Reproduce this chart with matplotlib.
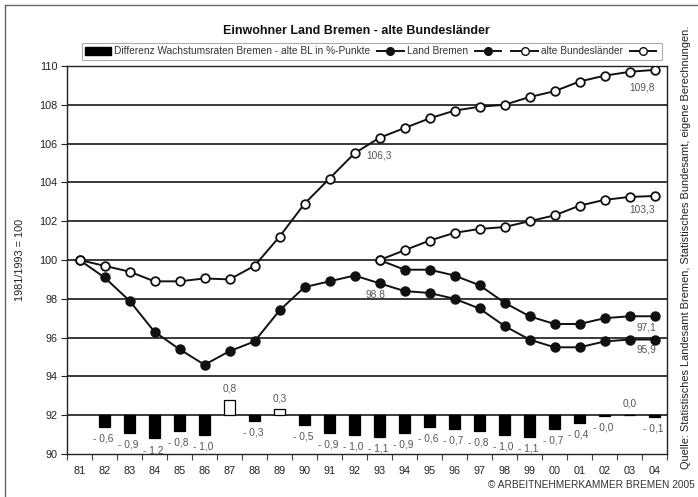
import matplotlib
matplotlib.use("Agg")
import matplotlib.pyplot as plt
from matplotlib.lines import Line2D
from matplotlib.patches import Rectangle
import numpy as np

plt.rcParams['font.family'] = ['Liberation Sans', 'DejaVu Sans']

years = ['81', '82', '83', '84', '85', '86', '87', '88', '89', '90', '91', '92',
         '93', '94', '95', '96', '97', '98', '99', '00', '01', '02', '03', '04']

bremen_1981 = [100.0, 99.1, 97.9, 96.3, 95.4, 94.6, 95.3, 95.8, 97.4, 98.6, 98.9, 99.2,
               98.8, 98.4, 98.3, 98.0, 97.5, 96.6, 95.9, 95.5, 95.5, 95.8, 95.9, 95.9]
alte_bl_1981 = [100.0, 99.7, 99.4, 98.9, 98.9, 99.05, 99.0, 99.7, 101.2, 102.9, 104.2, 105.5,
                106.3, 106.8, 107.3, 107.7, 107.9, 108.0, 108.4, 108.7, 109.2, 109.5, 109.7, 109.8]
bremen_1993 = [100.0, 99.5, 99.5, 99.2, 98.7, 97.8, 97.1, 96.7, 96.7, 97.0, 97.1, 97.1]
alte_bl_1993 = [100.0, 100.5, 101.0, 101.4, 101.6, 101.7, 102.0, 102.3, 102.8, 103.1, 103.25, 103.3]

diff_years = years[1:]
diff_values = [-0.6, -0.9, -1.2, -0.8, -1.0, 0.8, -0.3, 0.3, -0.5, -0.9, -1.0,
               -1.1, -0.9, -0.6, -0.7, -0.8, -1.0, -1.1, -0.7, -0.4, -0.02, 0.02, -0.1]

bar_base = 92.0
title = "Einwohner Land Bremen - alte Bundesländer"
ylabel = "1981/1993 = 100"
source = "Quelle: Statistisches Landesamt Bremen, Statistisches Bundesamt, eigene Berechnungen."
copyright_txt = "© ARBEITNEHMERKAMMER BREMEN 2005"
legend_labels = ["Differenz Wachstumsraten Bremen - alte BL in %-Punkte", "Land Bremen", "",
                 "alte Bundesländer", ""]

W, H = 698, 497
fig = plt.figure(figsize=(W / 100, H / 100), dpi=100)
ax = fig.add_axes([67 / W, 1 - 454 / H, 600 / W, 388 / H])

x_all = np.arange(len(years))
x93 = x_all[years.index('93'):]
x_diff = x_all[1:]

# grid lines
for yv in np.arange(92, 110, 2):
    ax.axhline(yv, color='#2a2a2a', lw=1.3, zorder=1)

# bars
bar_colors = ['white' if v > 0 else 'black' for v in diff_values]
ax.bar(x_diff, diff_values, bottom=bar_base, width=0.44, color=bar_colors,
       edgecolor='black', linewidth=0.9, zorder=3)

lc = '#111111'
mk = dict(markersize=6.2, markeredgewidth=1.3, markeredgecolor=lc)
ax.plot(x_all, bremen_1981, '-o', color=lc, lw=1.4, markerfacecolor=lc, zorder=4, **mk)
ax.plot(x_all, alte_bl_1981, '-o', color=lc, lw=1.4, markerfacecolor='white', zorder=4, **mk)
ax.plot(x93, bremen_1993, '-o', color=lc, lw=1.4, markerfacecolor=lc, zorder=4, **mk)
ax.plot(x93, alte_bl_1993, '-o', color=lc, lw=1.4, markerfacecolor='white', zorder=5, **mk)

# bar value labels
def fmt(v):
    s = f"{abs(v):.1f}".replace('.', ',')
    return ("- " + s) if v < 0 else s

lab_col = '#555555'
lab_fs = 7.3
for xi, v in zip(x_diff, diff_values):
    top = bar_base + v
    if v > 0:
        ax.annotate(fmt(v), (xi, top), xytext=(0, 8), textcoords='offset points',
                    ha='center', va='center', fontsize=lab_fs, color=lab_col)
    else:
        ax.annotate(fmt(v), (xi, top), xytext=(-1, -8.5), textcoords='offset points',
                    ha='center', va='center', fontsize=lab_fs, color=lab_col)

# end value labels
def endlab(xi, yv, dx, dy):
    ax.annotate(f"{yv:.1f}".replace('.', ','), (xi, yv), xytext=(dx, dy),
                textcoords='offset points', ha='center', va='center',
                fontsize=lab_fs, color=lab_col, zorder=6)

i93 = years.index('93')
endlab(x_all[i93], alte_bl_1981[i93], 0, -13)
endlab(x_all[i93], bremen_1981[i93], -3, -8)
endlab(x_all[-1], alte_bl_1981[-1], -9, -13)
endlab(x_all[-1], alte_bl_1993[-1], -9, -10)
endlab(x_all[-1], bremen_1993[-1], -6, -8)
endlab(x_all[-1], bremen_1981[-1], -6, -7)

ax.set_xlim(-0.5, len(years) - 0.5)
ax.set_ylim(90, 110)
ax.set_yticks(np.arange(90, 111, 2))
ax.set_xticks(x_all)
ax.set_xticklabels(years)
ax.set_xticks(np.arange(-0.5, len(years), 1), minor=True)
ax.tick_params(axis='x', which='major', length=0, pad=9, labelsize=7.8, colors='#222222')
ax.tick_params(axis='x', which='minor', length=4, width=0.8, color='#444444')
ax.tick_params(axis='y', length=4, width=0.8, pad=3, labelsize=7.8, colors='#222222')
for sp in ax.spines.values():
    sp.set_linewidth(1.0)
    sp.set_color('#222222')

ax.set_ylabel(ylabel, fontsize=7.8, color='#222222', labelpad=10)

# legend
lm = 5.5
handles = [
    Rectangle((0, 0), 1, 1, facecolor='black', edgecolor='black'),
    Line2D([], [], color=lc, lw=1.4, marker='o', markerfacecolor=lc, markersize=lm, markeredgecolor=lc),
    Line2D([], [], color=lc, lw=1.4, marker='o', markerfacecolor=lc, markersize=lm, markeredgecolor=lc),
    Line2D([], [], color=lc, lw=1.4, marker='o', markerfacecolor='white', markersize=lm, markeredgecolor=lc),
    Line2D([], [], color=lc, lw=1.4, marker='o', markerfacecolor='white', markersize=lm, markeredgecolor=lc),
]
leg = fig.legend(handles, legend_labels, loc='center', bbox_to_anchor=(372 / W, 1 - 51.5 / H),
                 ncol=5, fontsize=7.3, frameon=True, fancybox=False, handlelength=2.6,
                 handleheight=0.7, handletextpad=0.3, columnspacing=0.7, borderpad=0.3,
                 borderaxespad=0)
leg.get_frame().set_edgecolor('#999999')
leg.get_frame().set_linewidth(0.8)
for t in leg.get_texts():
    t.set_color('#333333')

fig.text(356 / W, 1 - 31 / H, title, ha='center', va='center', fontsize=9,
         fontweight='bold', color='#111111')
fig.text(686 / W, 1 - 247 / H, source, rotation=90, ha='center', va='center',
         fontsize=7.9, color='#222222')
fig.text(695 / W, 1 - 485 / H, copyright_txt, ha='right', va='center',
         fontsize=7.3, color='#333333')

# figure frame lines (top and left)
fig.add_artist(Line2D([5 / W, 1.0], [1 - 5 / H, 1 - 5 / H], color='#666666', lw=1.0,
                      transform=fig.transFigure))
fig.add_artist(Line2D([5 / W, 5 / W], [0.0, 1 - 5 / H], color='#666666', lw=1.0,
                      transform=fig.transFigure))

fig.savefig('out.png', dpi=100)
